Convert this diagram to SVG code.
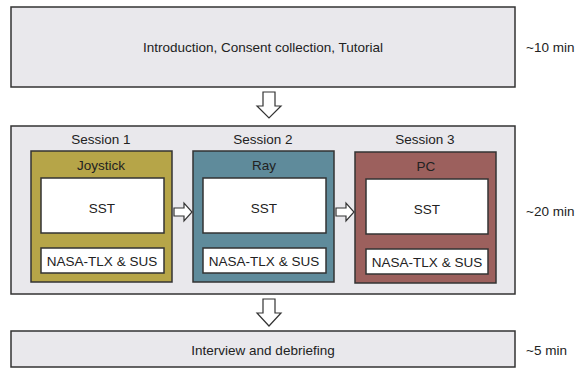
<svg xmlns="http://www.w3.org/2000/svg" width="575" height="372" viewBox="0 0 575 372">
<defs>
<style>
.stage{fill:#e9e8ec;stroke:#333;stroke-width:1.5}
.white{fill:#fff;stroke:#333;stroke-width:1.5}
.arrow{fill:#fff;stroke:#333;stroke-width:1.2;stroke-linejoin:miter}
text{font-family:"Liberation Sans",Arial,sans-serif;font-size:13.5px;fill:#222;text-anchor:middle;dominant-baseline:central}
.side{text-anchor:start}
</style>
</defs>
<rect width="575" height="372" fill="#fff"/>
<g id="intro">
<rect class="stage" x="11" y="7" width="504" height="80"/>
<text x="263" y="47">Introduction, Consent collection, Tutorial</text>
<text class="side" x="526" y="47">~10 min</text>
</g>
<g id="sessions">
<rect class="stage" x="11" y="126" width="504" height="168"/>
<text x="101" y="139">Session 1</text>
<text x="263" y="139">Session 2</text>
<text x="425" y="139">Session 3</text>
<text class="side" x="526" y="211">~20 min</text>
</g>
<g id="joystick">
<rect x="31" y="151" width="141" height="131" fill="#b6a548" stroke="#333" stroke-width="1.5"/>
<text x="101" y="165">Joystick</text>
<rect class="white" x="41" y="178" width="123" height="55"/>
<text x="102" y="208">SST</text>
<rect class="white" x="41" y="248" width="123" height="25"/>
<text x="102" y="261">NASA-TLX &amp; SUS</text>
</g>
<g id="ray">
<rect x="193" y="151" width="141" height="131" fill="#5f8b9b" stroke="#333" stroke-width="1.5"/>
<text x="264" y="165">Ray</text>
<rect class="white" x="203" y="178" width="123" height="55"/>
<text x="264" y="208">SST</text>
<rect class="white" x="203" y="248" width="123" height="25"/>
<text x="264" y="261">NASA-TLX &amp; SUS</text>
</g>
<g id="pc">
<rect x="355" y="152" width="141" height="131" fill="#9c605d" stroke="#333" stroke-width="1.5"/>
<text x="426" y="166">PC</text>
<rect class="white" x="366" y="179" width="122" height="55"/>
<text x="427" y="209">SST</text>
<rect class="white" x="366" y="249" width="122" height="25"/>
<text x="427" y="262">NASA-TLX &amp; SUS</text>
</g>
<g id="debrief">
<rect class="stage" x="11" y="331" width="504" height="36"/>
<text x="263" y="350">Interview and debriefing</text>
<text class="side" x="526" y="350">~5 min</text>
</g>
<g id="connectors">
<polygon class="arrow" points="263,92 275,92 275,106 281,106 269,118 257,106 263,106"/>
<polygon class="arrow" points="263,299 275,299 275,313 281,313 269,326 257,313 263,313"/>
<polygon class="arrow" points="174,208 184,208 184,203 192,212 184,221 184,216 174,216"/>
<polygon class="arrow" points="336,208 346,208 346,203 354,212 346,221 346,216 336,216"/>
</g>
</svg>
